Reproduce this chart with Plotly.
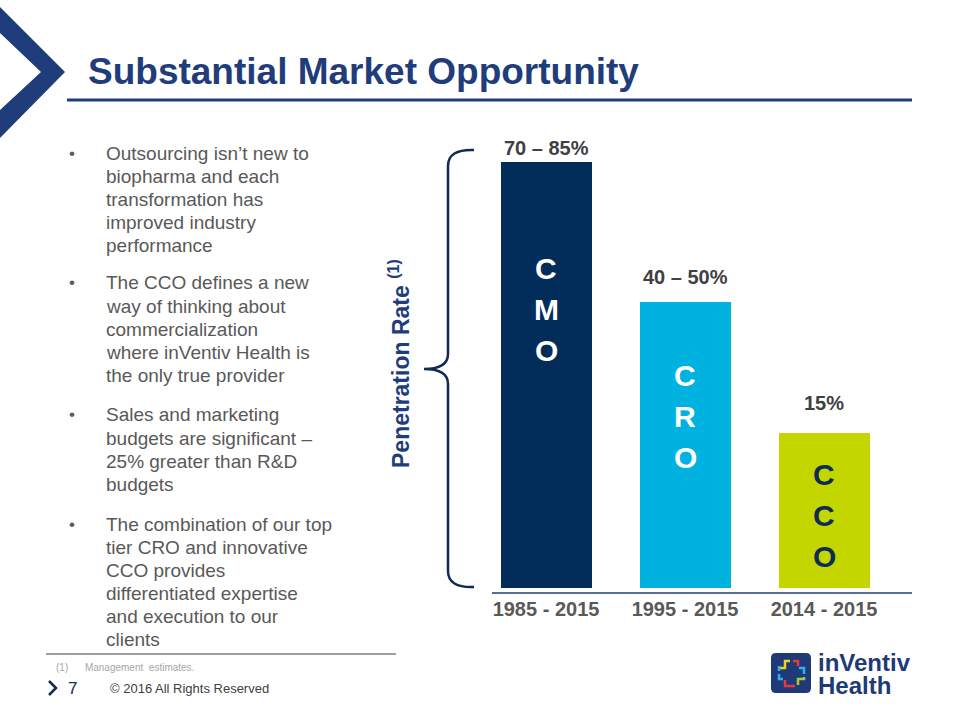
import plotly.graph_objects as go

# ---------------- data ----------------
categories = ["1985 - 2015", "1995 - 2015", "2014 - 2015"]
bar_values = [85, 57, 31]            # bar heights as drawn (relative scale, 0-100)
value_labels = ["70 – 85%", "40 – 50%", "15%"]
bar_letters = ["CMO", "CRO", "CCO"]

bullets = [
    ["Outsourcing isn’t new to", "biopharma and each", "transformation has",
     "improved industry", "performance"],
    ["The CCO defines a new", "way of thinking about", "commercialization",
     "where inVentiv Health is", "the only true provider"],
    ["Sales and marketing", "budgets are significant –", "25% greater than R&D",
     "budgets"],
    ["The combination of our top", "tier CRO and innovative", "CCO provides",
     "differentiated expertise", "and execution to our", "clients"],
]

# ---------------- style ----------------
W, H = 960, 720
FONT = "Liberation Sans, Arial, sans-serif"
NAVY = "#1F3D7A"
BAR_COLORS = ["#022D5B", "#00B2E0", "#C4D600"]
LETTER_COLORS = ["white", "white", "#0D2B55"]
TEXT_GRAY = "#595959"
LABEL_GRAY = "#404040"
label_shift = [14, 25, 30]          # px above bar top (label centre)
letter_mid = [0.655, 0.60, 0.47]    # middle letter position as fraction of bar height
letter_gap = 41                     # px between stacked letters


def px(x):
    return x / W


def py(y):
    return 1 - y / H


def path(cmds):
    out = []
    for c in cmds:
        if isinstance(c, str):
            out.append(c)
        else:
            out.append(f"{px(c[0]):.5f},{py(c[1]):.5f}")
    return " ".join(out)


fig = go.Figure()

fig.add_trace(go.Bar(
    x=categories, y=bar_values, width=0.66,
    marker=dict(color=BAR_COLORS, line=dict(width=0)),
    hoverinfo="skip", showlegend=False,
))

annotations = []
shapes = []

# value labels above bars
for i, (c, v, lab) in enumerate(zip(categories, bar_values, value_labels)):
    annotations.append(dict(
        x=c, y=v, xref="x", yref="y", text=f"<b>{lab}</b>", showarrow=False,
        yanchor="middle", yshift=label_shift[i],
        font=dict(family=FONT, size=20, color=LABEL_GRAY)))
    # stacked letters inside bars
    for j, ch in enumerate(bar_letters[i]):
        annotations.append(dict(
            x=c, y=v * letter_mid[i], xref="x", yref="y", text=f"<b>{ch}</b>",
            showarrow=False, yanchor="middle", yshift=(1 - j) * letter_gap,
            font=dict(family=FONT, size=30, color=LETTER_COLORS[i])))

# axis baseline
shapes.append(dict(type="line", xref="paper", yref="paper",
                   x0=px(492), x1=px(912), y0=py(593), y1=py(593),
                   line=dict(color=NAVY, width=1.5)))

# y axis title
annotations.append(dict(
    x=px(399), y=py(364), xref="paper", yref="paper", textangle=-90,
    text="<b>Penetration Rate</b> <sup><b>(1)</b></sup>", showarrow=False,
    xanchor="center", yanchor="middle",
    font=dict(family=FONT, size=23, color=NAVY)))

# brace
shapes.append(dict(type="path", xref="paper", yref="paper",
                   path=path(["M", (474, 150), "Q", (448, 149), (448, 166),
                              "L", (448, 354), "Q", (448, 369), (424, 369),
                              "Q", (448, 369), (448, 384),
                              "L", (448, 571), "Q", (448, 588), (474, 587)]),
                   line=dict(color="#0D2B55", width=2.5)))

# title
annotations.append(dict(
    x=px(86), y=py(72), xref="paper", yref="paper",
    text="<b>Substantial Market Opportunity</b>", showarrow=False,
    xanchor="left", yanchor="middle",
    font=dict(family=FONT, size=37, color=NAVY)))
shapes.append(dict(type="line", xref="paper", yref="paper",
                   x0=px(67), x1=px(912), y0=py(100), y1=py(100),
                   line=dict(color=NAVY, width=3)))

# chevron top-left
shapes.append(dict(type="path", xref="paper", yref="paper",
                   path=path(["M", (0, 7), "L", (65, 72), "L", (0, 138),
                              "L", (0, 110), "L", (41, 72), "L", (0, 33), "Z"]),
                   fillcolor=NAVY, line=dict(width=0)))

# bullets
para_starts = [153, 283, 415, 524]
line_h = 23.1
for start, lines in zip(para_starts, bullets):
    annotations.append(dict(
        x=px(72), y=py(start), xref="paper", yref="paper", text="•",
        showarrow=False, xanchor="center", yanchor="middle",
        font=dict(family=FONT, size=17, color=TEXT_GRAY)))
    for k, ln in enumerate(lines):
        annotations.append(dict(
            x=px(104), y=py(start + k * line_h), xref="paper", yref="paper",
            text=ln, showarrow=False, xanchor="left", yanchor="middle",
            font=dict(family=FONT, size=19, color=TEXT_GRAY)))

# footer
shapes.append(dict(type="line", xref="paper", yref="paper",
                   x0=px(46), x1=px(396), y0=py(654), y1=py(654),
                   line=dict(color="#7F7F7F", width=1.5)))
annotations.append(dict(
    x=px(54), y=py(667), xref="paper", yref="paper",
    text="(1)      Management  estimates.", showarrow=False,
    xanchor="left", yanchor="middle",
    font=dict(family=FONT, size=10, color="#A6A6A6")))
shapes.append(dict(type="path", xref="paper", yref="paper",
                   path=path(["M", (49, 681), "L", (56, 688), "L", (49, 695)]),
                   line=dict(color="#0D2B55", width=2.5)))
annotations.append(dict(
    x=px(66), y=py(688), xref="paper", yref="paper", text="7",
    showarrow=False, xanchor="left", yanchor="middle",
    font=dict(family=FONT, size=17, color="#0D2B55")))
annotations.append(dict(
    x=px(108), y=py(688), xref="paper", yref="paper",
    text="© 2016 All Rights Reserved", showarrow=False,
    xanchor="left", yanchor="middle",
    font=dict(family=FONT, size=13, color="#404040")))

# logo
lx, ly = 771, 653
shapes.append(dict(type="path", xref="paper", yref="paper",
                   path=path(["M", (lx + 5, ly), "L", (lx + 35, ly),
                              "Q", (lx + 40, ly), (lx + 40, ly + 5),
                              "L", (lx + 40, ly + 35), "Q", (lx + 40, ly + 40), (lx + 35, ly + 40),
                              "L", (lx + 5, ly + 40), "Q", (lx, ly + 40), (lx, ly + 35),
                              "L", (lx, ly + 5), "Q", (lx, ly), (lx + 5, ly), "Z"]),
                   fillcolor="#1E3A78", line=dict(width=0)))
logo_segs = [
    ([(8, 15), (14, 15), (14, 8), (19, 8)], "#F2D21B"),
    ([(22, 8), (27, 8), (27, 13)], "#E8383D"),
    ([(28, 15), (33, 15), (33, 21)], "#2FB2E6"),
    ([(33, 24), (33, 26), (27, 26), (27, 32)], "#A7C93B"),
    ([(24, 33), (14, 33), (14, 27)], "#E8383D"),
    ([(8, 21), (8, 26), (12, 26)], "#2FB2E6"),
    ([(8, 13), (8, 18)], "#2FB2E6"),
]
for pts, col in logo_segs:
    cmds = ["M", (lx + pts[0][0], ly + pts[0][1])]
    for p in pts[1:]:
        cmds += ["L", (lx + p[0], ly + p[1])]
    shapes.append(dict(type="path", xref="paper", yref="paper", path=path(cmds),
                       line=dict(color=col, width=2.5)))
annotations.append(dict(
    x=px(816), y=py(662), xref="paper", yref="paper", text="<b>inVentiv</b>",
    showarrow=False, xanchor="left", yanchor="middle",
    font=dict(family=FONT, size=24, color="#1E3A78")))
annotations.append(dict(
    x=px(816), y=py(685), xref="paper", yref="paper", text="<b>Health</b>",
    showarrow=False, xanchor="left", yanchor="middle",
    font=dict(family=FONT, size=24, color="#1E3A78")))

fig.update_layout(
    width=W, height=H, margin=dict(l=0, r=0, t=0, b=0),
    paper_bgcolor="white", plot_bgcolor="white",
    showlegend=False, bargap=0,
    xaxis=dict(domain=[px(476.5), px(893.5)], range=[-0.5, 2.5],
               showgrid=False, zeroline=False, showline=False,
               ticks="", ticklabelstandoff=7,
               tickfont=dict(family=FONT, size=20, color=TEXT_GRAY),
               tickvals=categories, ticktext=[f"<b>{c}</b>" for c in categories],
               fixedrange=True),
    yaxis=dict(domain=[py(588), py(87)], range=[0, 100], visible=False,
               fixedrange=True),
    annotations=annotations, shapes=shapes,
)

fig.write_html("out.html", config={"displayModeBar": False},
               post_script="document.body.style.margin='0';document.body.style.overflow='hidden';")
